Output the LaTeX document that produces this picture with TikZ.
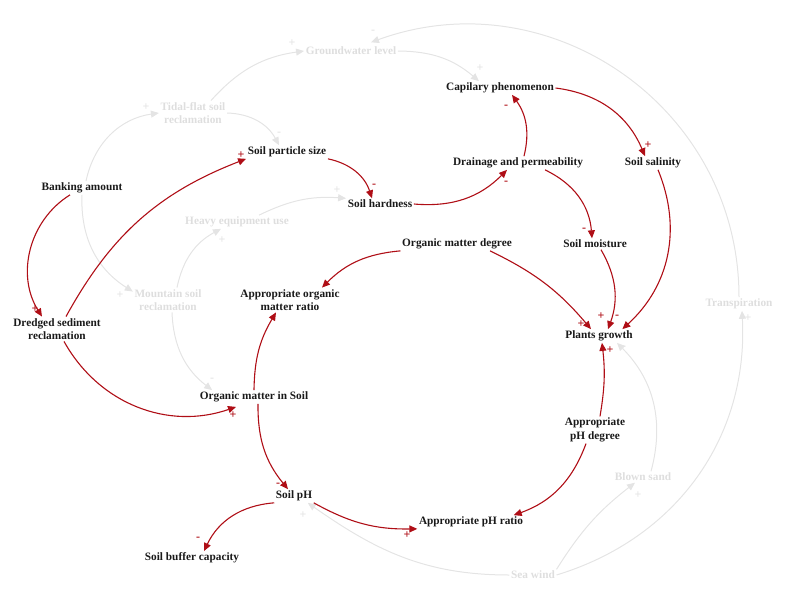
\documentclass[tikz,border=0pt]{standalone}
\usepackage{fontspec}
\setmainfont{Liberation Serif}
\usetikzlibrary{arrows.meta}
\definecolor{linkred}{RGB}{175,14,22}
\definecolor{ghostline}{RGB}{228,228,228}
\definecolor{ghosttext}{RGB}{222,222,222}

\begin{document}
\begin{tikzpicture}[
    x=1pt, y=1pt,
    var/.style={font=\fontsize{11.3}{13.5}\selectfont\bfseries, align=center, inner sep=1.5pt, text=black!90},
    ghost/.style={var, text=ghosttext},
    link/.style={-{Triangle[length=8pt, width=7pt]}, draw=linkred, line width=1.1pt},
    faint/.style={-{Triangle[length=8pt, width=7pt]}, draw=ghostline, line width=1pt},
    sgn/.style={font=\fontsize{12}{12}\selectfont\bfseries, inner sep=0pt, text=linkred},
    gsgn/.style={sgn, text=ghostline}
]
    \useasboundingbox (0,0) rectangle (800,-597);

    % faint variables
    \node[ghost] (ground) at (351,-51)  {Groundwater level};
    \node[ghost] (tidal)  at (193,-113) {Tidal-flat soil\\reclamation};
    \node[ghost] (heavy)  at (237,-222) {Heavy equipment use};
    \node[ghost] (mount)  at (168,-300) {Mountain soil\\reclamation};
    \node[ghost] (transp) at (739,-304) {Transpiration};
    \node[ghost] (blown)  at (643,-477) {Blown sand};
    \node[ghost] (sea)    at (533,-575) {Sea wind};

    % main variables
    \node[var] (cap)     at (500,-88)  {Capilary phenomenon};
    \node[var] (size)    at (287,-152) {Soil particle size};
    \node[var] (bank)    at (82,-188)  {Banking amount};
    \node[var] (drain)   at (518,-163) {Drainage and permeability};
    \node[var] (sal)     at (653,-163) {Soil salinity};
    \node[var] (hard)    at (380,-204) {Soil hardness};
    \node[var] (omdeg)   at (457,-244) {Organic matter degree};
    \node[var] (moist)   at (595,-244) {Soil moisture};
    \node[var] (omratio) at (290,-300) {Appropriate organic\\matter ratio};
    \node[var] (dredge)  at (57,-329)  {Dredged sediment\\reclamation};
    \node[var] (plants)  at (599,-336) {Plants growth};
    \node[var] (omsoil)  at (254,-397) {Organic matter in Soil};
    \node[var] (phdeg)   at (595,-430) {Appropriate\\pH degree};
    \node[var] (ph)      at (294,-496) {Soil pH};
    \node[var] (phratio) at (471,-522) {Appropriate pH ratio};
    \node[var] (buffer)  at (192,-558) {Soil buffer capacity};

    % faint links
    \draw[faint] ([xshift=4pt]bank.north) to[bend left=35] (tidal.west);
    \draw[faint] ([xshift=18pt]tidal.north) to[bend left=20] (ground.west);
    \draw[faint] (tidal.east) to[bend left=30] ([xshift=-8pt]size.north);
    \draw[faint] (ground.east) to[bend left=20] ([xshift=-21pt]cap.north);
    \draw[faint] (transp.north) .. controls +(90:190) and +(20:190) .. ([xshift=20pt, yshift=3pt]ground.north);
    \draw[faint] (sea.north east) to[bend left=10] ([xshift=-8pt]blown.south);
    \draw[faint] ([xshift=8pt]blown.north) to[bend right=30] ([xshift=18pt]plants.south);
    \draw[faint] (sea.west) to[out=180, in=-35] ([xshift=-6pt]ph.south east);
    \draw[faint] (sea.east) to[bend right=38] ([xshift=3pt]transp.south);
    \draw[faint] (bank.south) to[bend right=30] ([yshift=-4pt]mount.north west);
    \draw[faint] ([xshift=9pt]mount.north) to[bend left=25] ([xshift=-16pt]heavy.south);
    \draw[faint] ([xshift=22pt]heavy.north) to[bend left=15] (hard.north west);
    \draw[faint] ([xshift=4pt]mount.south) to[bend right=25] ([xshift=14pt]omsoil.north west);

    % main links
    \draw[link] ([xshift=-12pt]bank.south) to[bend right=45] ([xshift=-15pt]dredge.north);
    \draw[link] ([xshift=9pt]dredge.north) to[bend left=20] (size.south west);
    \draw[link] (size.south east) to[bend left=30] ([xshift=-8pt]hard.north);
    \draw[link] (hard.east) to[bend right=25] ([xshift=-11pt]drain.south);
    \draw[link] ([xshift=6pt]drain.north) to[bend right=25] ([xshift=12pt]cap.south);
    \draw[link] (cap.east) to[bend left=30] ([xshift=-8pt]sal.north);
    \draw[link] ([xshift=5pt]sal.south) to[bend left=35] ([xshift=-12pt]plants.north east);
    \draw[link] ([xshift=27pt]drain.south) to[bend left=30] ([xshift=-3pt]moist.north);
    \draw[link] ([xshift=6pt]moist.south) to[bend left=25] ([xshift=9pt]plants.north);
    \draw[link] ([xshift=33pt]omdeg.south) to[bend left=12] ([xshift=-8pt]plants.north);
    \draw[link] (omdeg.south west) to[bend right=20] ([xshift=32pt]omratio.north);
    \draw[link] (omsoil.north) to[bend left=15] ([xshift=-14pt]omratio.south);
    \draw[link] ([xshift=7pt]dredge.south) to[bend right=40] ([xshift=-18pt, yshift=-3pt]omsoil.south);
    \draw[link] ([xshift=4pt]omsoil.south) to[bend right=20] ([xshift=-6pt]ph.north);
    \draw[link] (ph.south west) to[bend right=30] ([xshift=12pt]buffer.north);
    \draw[link] (ph.south east) to[bend right=15] (phratio.south west);
    \draw[link] ([xshift=-9pt]phdeg.south) to[bend left=25] ([xshift=-11pt]phratio.north east);
    \draw[link] ([xshift=5pt]phdeg.north) to[bend right=8] ([xshift=3pt]plants.south);

    % polarity signs
    \foreach \px/\py/\sg [count=\i] in {35/309/+, 241/155/+, 374/186/-, 506/183/-, 506/107/-,
        648/145/+, 617/317/-, 584/230/-, 601/316/+, 581/324/+, 233/415/+, 278/485/-,
        198/539/-, 407/535/+, 610/350/+}
        \node[sgn] (rs\i) at (\px,-\py) {\sg};
    \foreach \px/\py/\sg [count=\i] in {146/107/+, 292/43/+, 279/134/-, 480/68/+, 373/32/-,
        638/495/+, 624/348/-, 303/515/+, 120/295/+, 222/240/+, 337/190/+, 212/380/-, 748/318/+}
        \node[gsgn] (gs\i) at (\px,-\py) {\sg};
\end{tikzpicture}
\end{document}
